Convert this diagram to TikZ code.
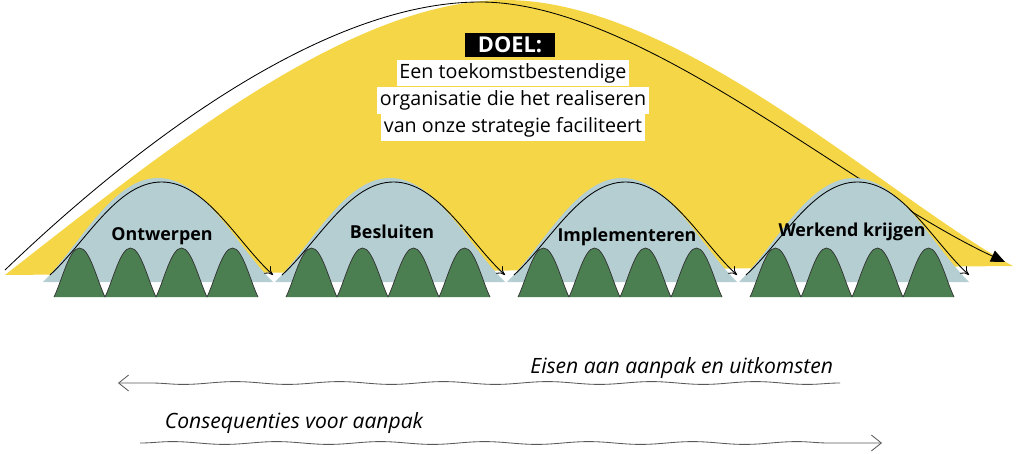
\documentclass[tikz,border=0pt]{standalone}
\usepackage{fontspec}
\setmainfont{Open Sans}
\usetikzlibrary{positioning,arrows.meta,decorations.pathmorphing}

\definecolor{goalyellow}{HTML}{F4D646}
\definecolor{phaseblue}{HTML}{B4CED2}
\definecolor{stepgreen}{HTML}{4B7E51}

\newcommand{\bell}[4]{({#1},{#2}) .. controls ({#1+0.16*#3},{#2-0.35*#4}) and ({#1+0.3*#3},{#2-#4}) .. ({#1+0.5*#3},{#2-#4}) .. controls ({#1+0.7*#3},{#2-#4}) and ({#1+0.84*#3},{#2-0.35*#4}) .. ({#1+#3},{#2})}

\tikzset{
	greenhill/.style={fill=stepgreen, draw=black!80, line width=0.5pt},
	phasearc/.style={draw=black, line width=0.6pt, -{To[length=2mm,width=2.5mm]}},
	phase/.style={font=\bfseries\fontsize{12.7}{14}\selectfont},
	goalline/.style={fill=white, inner xsep=2pt, inner ysep=0pt, minimum height=19pt, font=\fontsize{14}{16}\selectfont},
	flow/.style={draw=black!65, line width=0.6pt, decorate, decoration={snake, amplitude=1pt, segment length=2.6cm, post length=3mm},
		-{Straight Barb[length=2.5mm,width=4mm]}},
	flowlabel/.style={font=\itshape\fontsize{15}{17}\selectfont}
}

\begin{document}
\begin{tikzpicture}[x=0.025cm, y=-0.025cm]
		\useasboundingbox (0,0) rectangle (1024,453);
		\fill[goalyellow] (5,275) .. controls (165,150) and (350,0) .. (505,0)
			.. controls (680,0) and (890,200) .. (1013,266) -- cycle;
		\draw[line width=0.6pt, -{Triangle[length=3.5mm,width=3mm]}] (5,270) .. controls (130,150) and (320,2) .. (480,2)
			.. controls (640,2) and (850,190) .. (1005,262);
		\foreach \x in {43,275,507,739} {
			\fill[phaseblue] \bell{\x}{282}{230}{104};
			\draw[phasearc] \bell{\x+7}{275}{223}{93};
		}
		\foreach \p in {0,232,464,696} {
			\foreach \g in {0,1,2,3} {
				\filldraw[greenhill] \bell{54+\p+51*\g}{297}{51}{49};
			}
		}
		\node[phase] (ontwerpen) at (162,236) {Ontwerpen};
		\node[phase] (besluiten) at (392,232) {Besluiten};
		\node[phase] (implementeren) at (627,237) {Implementeren};
		\node[phase] (werkend) at (852,232) {Werkend krijgen};
		\node[fill=black, text=white, inner sep=0pt, minimum width=64pt, minimum height=17pt,
			font=\bfseries\fontsize{15.5}{16}\selectfont] (doel) at (510,45) {DOEL:};
		\node[goalline] (line1) at (513,73) {Een toekomstbestendige};
		\node[goalline, below=0pt of line1] (line2) {organisatie die het realiseren};
		\node[goalline, below=0pt of line2] (line3) {van onze strategie faciliteert};
		\node[flowlabel, anchor=east] (eisen) at (838,368) {Eisen aan aanpak en uitkomsten};
		\coordinate (eisenstart) at (840,383);
		\coordinate (eisenend) at (118,383);
		\draw[flow] (eisenstart) -- (eisenend);
		\node[flowlabel, anchor=west] (gevolgen) at (160,423) {Consequenties voor aanpak};
		\coordinate (gevolgenstart) at (140,443);
		\coordinate (gevolgenend) at (882,443);
		\draw[flow] (gevolgenstart) -- (gevolgenend);
	\end{tikzpicture}
\end{document}
